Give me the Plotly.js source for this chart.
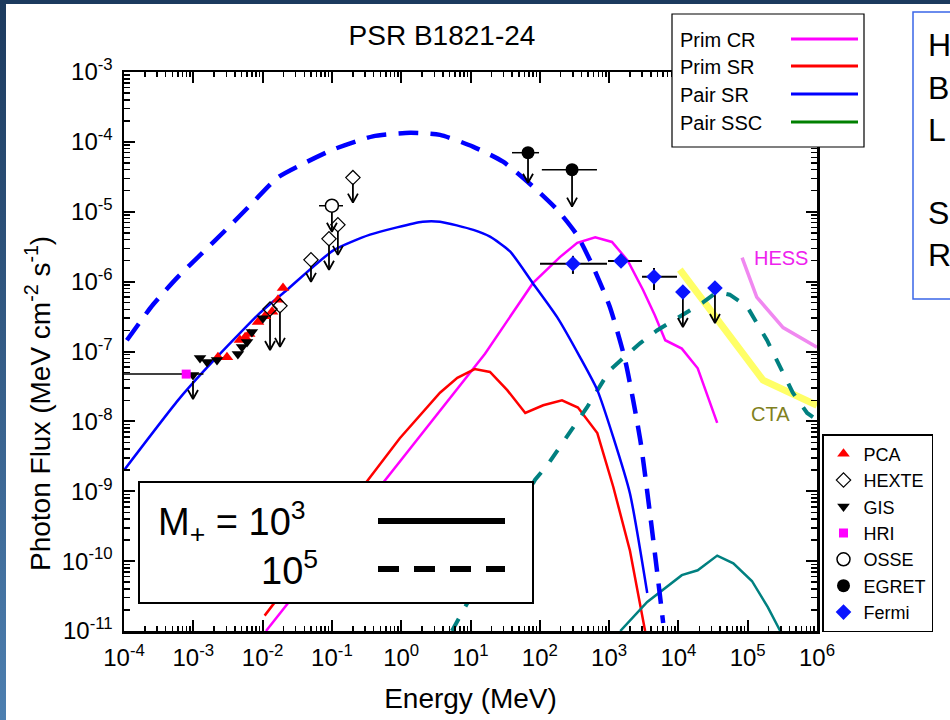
<!DOCTYPE html>
<html><head><meta charset="utf-8">
<script src="https://cdn.plot.ly/plotly-3.0.1.min.js"></script>
<style>
html,body{margin:0;padding:0;background:#fff;}
#wrap{position:relative;width:950px;height:720px;overflow:hidden;background:#fff;}
#chart{position:absolute;left:0;top:0;width:950px;height:720px;}
#lstrip{position:absolute;left:0;top:0;width:6px;height:720px;background:linear-gradient(#1c3a5e,#4d7fb0);z-index:5;}
#tstrip{position:absolute;left:0;top:0;width:950px;height:4px;background:#1c3a5e;z-index:5;}
</style></head><body>
<div id="wrap"><div id="chart"></div><div id="lstrip"></div><div id="tstrip"></div></div>
<script>
const FONT = '"Liberation Sans", Arial, Helvetica, sans-serif';

// ---- tick labels ----
const xTickVals = [1e-4,1e-3,1e-2,1e-1,1e0,1e1,1e2,1e3,1e4,1e5,1e6];
const xTickText = ['10<sup>-4</sup>','10<sup>-3</sup>','10<sup>-2</sup>','10<sup>-1</sup>','10<sup>0</sup>','10<sup>1</sup>','10<sup>2</sup>','10<sup>3</sup>','10<sup>4</sup>','10<sup>5</sup>','10<sup>6</sup>'];
const yTickVals = [1e-11,1e-10,1e-9,1e-8,1e-7,1e-6,1e-5,1e-4,1e-3];
const yTickText = ['10<sup>-11</sup>','10<sup>-10</sup>','10<sup>-9</sup>','10<sup>-8</sup>','10<sup>-7</sup>','10<sup>-6</sup>','10<sup>-5</sup>','10<sup>-4</sup>','10<sup>-3</sup>'];

// ---- model curves ----
const pairSR3_E = [1e-4, 6.0e-4, 1.38e-3, 9.1e-3, 2.24e-2, 0.105, 0.355, 2.04, 3.63, 11.0, 19.1, 37.2, 79.4, 178, 380, 676, 1150, 2000, 3550];
const pairSR3_F = [2.0e-9, 2.0e-8, 5.1e-8, 3.55e-7, 7.6e-7, 2.8e-6, 4.7e-6, 7.2e-6, 7.2e-6, 5.5e-6, 4.4e-6, 2.7e-6, 9.5e-7, 3.1e-7, 8.3e-8, 2.8e-8, 5.9e-9, 9.3e-10, 3.5e-11];

const pairSR5_E = [1.1e-4, 2.63e-4, 6.0e-4, 1.35e-3, 3.16e-3, 7.2e-3, 1.66e-2, 4.4e-2, 0.105, 0.39, 1.35, 3.63, 11.0, 29.5, 79.4, 178, 347, 589, 1020, 1700, 2820, 3890, 4900, 6030];
const pairSR5_F = [1.45e-7, 4.7e-7, 1.17e-6, 2.57e-6, 5.9e-6, 1.35e-5, 3.1e-5, 5.2e-5, 7.8e-5, 1.2e-4, 1.35e-4, 1.26e-4, 8.5e-5, 5.2e-5, 2.3e-5, 1.07e-5, 4.6e-6, 1.62e-6, 4.4e-7, 7.6e-8, 5.4e-9, 4.8e-10, 7.4e-11, 1.3e-11];

const primCR_E = [1.12e-2, 0.955, 16.2, 79.4, 195, 347, 631, 1100, 1860, 3090, 4570, 6460, 1.12e4, 1.9e4, 2.57e4, 3.63e4];
const primCR_F = [1.0e-11, 2.7e-9, 9.3e-8, 9.5e-7, 2.24e-6, 3.6e-6, 4.3e-6, 3.7e-6, 2.0e-6, 7.6e-7, 3.3e-7, 1.45e-7, 1.1e-7, 5.75e-8, 2.5e-8, 9.5e-9];

const primSR_E = [1.07e-2, 0.955, 3.63, 6.46, 11.5, 19.1, 33.9, 61.7, 112, 209, 355, 676, 1150, 2000, 3310];
const primSR_F = [1.66e-11, 5.75e-9, 2.57e-8, 4.2e-8, 5.6e-8, 5.1e-8, 2.8e-8, 1.32e-8, 1.7e-8, 2.0e-8, 1.58e-8, 6.8e-9, 1.15e-9, 1.41e-10, 1.0e-11];

const pairSSC3_E = [1450, 3550, 1.12e4, 1.9e4, 3.63e4, 6.2e4, 1.15e5, 1.95e5, 2.95e5];
const pairSSC3_F = [1.0e-11, 2.6e-11, 6.3e-11, 7.4e-11, 1.2e-10, 9.3e-11, 5.2e-11, 2.2e-11, 1.0e-11];

const pairSSC5_E = [5.4, 85, 126, 479, 1020, 2820, 4900, 2.24e4, 3.63e4, 5.5e4, 9.8e4, 1.9e5, 4.47e5, 7.2e5, 1e6];
const pairSSC5_F = [1.0e-11, 1.45e-9, 2.3e-9, 1.58e-8, 5.4e-8, 1.32e-7, 2.0e-7, 5.0e-7, 7.1e-7, 6.5e-7, 4.4e-7, 1.45e-7, 2.57e-8, 1.32e-8, 1.05e-8];

const cta_E = [1.05e4, 1.66e5, 1e6];
const cta_F = [1.48e-6, 3.9e-8, 1.7e-8];

const hess_E = [8.3e4, 1.35e5, 3.24e5, 1e6];
const hess_F = [2.2e-6, 6.0e-7, 2.2e-7, 1.15e-7];

// ---- observations ----
const pca_E = [2.27e-3, 3.06e-3, 4.7e-3, 5.6e-3, 6.4e-3, 8.6e-3, 1.08e-2, 1.37e-2, 1.67e-2, 1.97e-2];
const pca_F = [8.3e-8, 8.3e-8, 1.46e-7, 1.6e-7, 1.78e-7, 2.65e-7, 3.2e-7, 3.7e-7, 5.5e-7, 8.1e-7];

const hexte_E = [1.28e-2, 1.78e-2, 4.99e-2, 9.08e-2, 0.122, 0.201];
const hexte_F = [4.06e-7, 4.5e-7, 2.05e-6, 4.1e-6, 6.5e-6, 3.08e-5];

const gis_E = [1.25e-3, 1.58e-3, 2.2e-3, 4.4e-3, 5.05e-3, 5.96e-3, 7.0e-3, 1.01e-2];
const gis_F = [8.1e-8, 7.1e-8, 7.55e-8, 9.2e-8, 1.16e-7, 1.37e-7, 1.9e-7, 3.0e-7];
const gisUL_E = [9.9e-4];
const gisUL_F = [4.6e-8];

const hri_E = [7.9e-4];
const hri_F = [4.75e-8];
const hri_Elo = [5e-5];
const hri_Ehi = [1.4e-3];

const osse_E = [0.1];
const osse_F = [1.22e-5];
const osse_Elo = [0.0652];
const osse_Ehi = [0.1445];

const egret_E = [67.6, 292];
const egret_F = [7.0e-5, 4.0e-5];
const egret_Elo = [39.7, 107];
const egret_Ehi = [97.5, 668];

const fermi_E = [301, 1486, 4446];
const fermi_F = [1.8e-6, 1.98e-6, 1.17e-6];
const fermi_Elo = [100.7, 964, 2985];
const fermi_Ehi = [933, 2985, 9550];
const fermi_Flo = [1.29e-6, 1.98e-6, 7.6e-7];
const fermi_Fhi = [2.34e-6, 1.98e-6, 1.57e-6];
const fermiUL_E = [1.16e4, 3.37e4];
const fermiUL_F = [7.1e-7, 8.1e-7];

// arrow lengths (px) for upper limits  (style)
const hexteArrow = [41, 41, 22, 31, 30, 25];
const gisArrow = [24];
const osseArrow = [26];
const egretArrow = [30, 37];
const fermiArrow = [35, 35];

// ---- geometry helpers (plot area in px) ----
const PL = 124, PR = 817, PT = 72, PB = 631;
const DEC_X = (PR - PL) / 10, DEC_Y = (PB - PT) / 8;   // px per decade
const px = v => (v - PL) / (PR - PL);
const py = v => (PB - v) / (PB - PT);

const minorX = [];
for (let d = -4; d < 6; d++) for (let k = 2; k < 10; k++) minorX.push(k * Math.pow(10, d));
const minorY = [];
for (let d = -11; d < -3; d++) for (let k = 2; k < 10; k++) minorY.push(k * Math.pow(10, d));

const minus = (v, lo) => v.map((x, i) => x - lo[i]);
const plus = (v, hi) => v.map((x, i) => hi[i] - x);

function line(E, F, color, width, dash, shape) {
  return {x: E, y: F, type: 'scatter', mode: 'lines', showlegend: false, hoverinfo: 'skip',
    line: {color: color, width: width, dash: dash || 'solid', shape: shape || 'linear', smoothing: 0.6}};
}

// upper-limit arrows: shaft + open V head, built from each point's value
const ulX = [], ulY = [];
function ulArrows(E, F, lens) {
  const STAND = 6, HW = 5, HH = 9;
  E.forEach((e, i) => {
    const f0 = F[i] * Math.pow(10, -STAND / DEC_Y);
    const tip = F[i] * Math.pow(10, -lens[i] / DEC_Y);
    const back = tip * Math.pow(10, HH / DEC_Y);
    const eL = e * Math.pow(10, -HW / DEC_X), eR = e * Math.pow(10, HW / DEC_X);
    ulX.push(e, e, null, eL, e, eR, null);
    ulY.push(f0, tip, null, back, tip, back, null);
  });
}
ulArrows(hexte_E, hexte_F, hexteArrow);
ulArrows(gisUL_E, gisUL_F, gisArrow);
ulArrows(osse_E, osse_F, osseArrow);
ulArrows(egret_E, egret_F, egretArrow);
ulArrows(fermiUL_E, fermiUL_F, fermiArrow);

const traces = [
  line(cta_E, cta_F, '#ffff66', 7),
  line(hess_E, hess_F, '#f088f0', 3.5),
  line(primCR_E, primCR_F, '#ff00ff', 2.5),
  line(primSR_E, primSR_F, '#ff0000', 2.5),
  line(pairSSC3_E, pairSSC3_F, '#008080', 2.5),
  line(pairSSC5_E, pairSSC5_F, '#008080', 4, '14px,14px'),
  line(pairSR3_E, pairSR3_F, '#0000ff', 2.5, 'solid', 'spline'),
  line(pairSR5_E, pairSR5_F, '#0000ff', 4.5, '20px,12px', 'spline'),
  {x: ulX, y: ulY, type: 'scatter', mode: 'lines', showlegend: false, hoverinfo: 'skip', connectgaps: false,
    line: {color: 'black', width: 1.8}},
  {name: 'PCA', x: pca_E, y: pca_F, type: 'scatter', mode: 'markers',
    marker: {symbol: 'triangle-up', color: '#ff0000', size: 11}},
  {name: 'HEXTE', x: hexte_E, y: hexte_F, type: 'scatter', mode: 'markers',
    marker: {symbol: 'diamond-open', color: 'black', size: 11, line: {width: 1.2, color: 'black'}}},
  {name: 'GIS', x: gis_E.concat(gisUL_E), y: gis_F.concat(gisUL_F), type: 'scatter', mode: 'markers',
    marker: {symbol: 'triangle-down', color: 'black', size: 11}},
  {name: 'HRI', x: hri_E, y: hri_F, type: 'scatter', mode: 'markers',
    marker: {symbol: 'square', color: '#ff00ff', size: 9},
    error_x: {type: 'data', symmetric: false, array: plus(hri_E, hri_Ehi), arrayminus: minus(hri_E, hri_Elo), color: 'black', thickness: 1.5, width: 0}},
  {name: 'OSSE', x: osse_E, y: osse_F, type: 'scatter', mode: 'markers',
    marker: {symbol: 'circle', color: 'white', size: 13, line: {width: 1.5, color: 'black'}},
    error_x: {type: 'data', symmetric: false, array: plus(osse_E, osse_Ehi), arrayminus: minus(osse_E, osse_Elo), color: 'black', thickness: 1.5, width: 0}},
  {name: 'EGRET', x: egret_E, y: egret_F, type: 'scatter', mode: 'markers',
    marker: {symbol: 'circle', color: 'black', size: 13},
    error_x: {type: 'data', symmetric: false, array: plus(egret_E, egret_Ehi), arrayminus: minus(egret_E, egret_Elo), color: 'black', thickness: 1.5, width: 0}},
  {name: 'Fermi', legendgroup: 'fermi', x: fermi_E, y: fermi_F, type: 'scatter', mode: 'markers',
    marker: {symbol: 'diamond', color: '#0a14ff', size: 12},
    error_x: {type: 'data', symmetric: false, array: plus(fermi_E, fermi_Ehi), arrayminus: minus(fermi_E, fermi_Elo), color: 'black', thickness: 2, width: 0},
    error_y: {type: 'data', symmetric: false, array: plus(fermi_F, fermi_Fhi), arrayminus: minus(fermi_F, fermi_Flo), color: 'black', thickness: 2, width: 0}},
  {name: 'Fermi', legendgroup: 'fermi', showlegend: false, x: fermiUL_E, y: fermiUL_F, type: 'scatter', mode: 'markers',
    marker: {symbol: 'diamond', color: '#0a14ff', size: 12}}
];

const annotations = [];
function txt(t, xp, yp, size, color, extra) {
  return Object.assign({text: t, x: px(xp), y: py(yp), xref: 'paper', yref: 'paper', xanchor: 'left', yanchor: 'middle',
    showarrow: false, font: {family: FONT, size: size, color: color || 'black'}}, extra || {});
}
// model legend
const modelNames = ['Prim CR', 'Prim SR', 'Pair SR', 'Pair SSC'];
const modelColors = ['#ff00ff', '#ff0000', '#0000ff', '#008000'];
const rowY = [40, 67, 95, 123];
modelNames.forEach((n, i) => annotations.push(txt(n, 678, rowY[i], 20)));
// M+ box
annotations.push(txt('M<sub>+</sub> = 10<sup>3</sup>', 156, 522, 38));
annotations.push(txt('10<sup>5</sup>', 259, 568, 38));
// instrument labels
annotations.push(txt('HESS', 752, 258, 20, '#ee22ee'));
annotations.push(txt('CTA', 749, 414, 20, '#808020'));
// side panel letters
[['H', 45], ['B', 88], ['L', 130], ['S', 213], ['R', 255]].forEach(a => annotations.push(txt(a[0], 926, a[1], 32)));
// y title
annotations.push(txt('Photon Flux (MeV cm<sup>-2</sup> s<sup>-1</sup>)', 38, 404, 28, 'black', {xanchor: 'center', textangle: -90}));

const shapes = [
  {type: 'rect', xref: 'paper', yref: 'paper', x0: px(139), x1: px(533), y0: py(603), y1: py(482),
    fillcolor: 'white', line: {color: 'black', width: 2}, layer: 'above'},
  {type: 'line', xref: 'paper', yref: 'paper', x0: px(378), x1: px(505), y0: py(521), y1: py(521),
    line: {color: 'black', width: 6}, layer: 'above'},
  {type: 'line', xref: 'paper', yref: 'paper', x0: px(378), x1: px(505), y0: py(569), y1: py(569),
    line: {color: 'black', width: 6, dash: '21px,15px'}, layer: 'above'},
  {type: 'rect', xref: 'paper', yref: 'paper', x0: px(672), x1: px(864), y0: py(147), y1: py(14),
    fillcolor: 'white', line: {color: 'black', width: 1.2}, layer: 'above'},
  {type: 'rect', xref: 'paper', yref: 'paper', x0: px(913), x1: px(1000), y0: py(299), y1: py(12),
    line: {color: '#3a66e8', width: 1.5}, layer: 'above'}
];
modelColors.forEach((c, i) => shapes.push({type: 'line', xref: 'paper', yref: 'paper',
  x0: px(791), x1: px(858), y0: py(rowY[i] - 1), y1: py(rowY[i] - 1), line: {color: c, width: 3}, layer: 'above'}));

const axisCommon = {
  type: 'log', tickmode: 'array', ticks: 'inside', tickwidth: 2, tickcolor: 'black',
  showline: true, linewidth: 2.5, linecolor: 'black', mirror: 'ticks', showgrid: false, zeroline: false,
  tickfont: {family: FONT, size: 24, color: 'black'}, fixedrange: true, automargin: false
};

const layout = {
  width: 950, height: 720,
  margin: {l: PL, r: 950 - PR, t: PT, b: 720 - PB},
  paper_bgcolor: 'white', plot_bgcolor: 'white',
  title: {text: 'PSR B1821-24', x: 442 / 950, xanchor: 'center', y: 1 - 35 / 720, yanchor: 'middle',
    font: {family: FONT, size: 28, color: 'black'}},
  xaxis: Object.assign({}, axisCommon, {
    range: [-4, 6], tickvals: xTickVals, ticktext: xTickText, ticklen: 11, ticklabelstandoff: 4,
    minor: {tickmode: 'array', tickvals: minorX, ticks: 'inside', ticklen: 5, tickwidth: 1.5, tickcolor: 'black', showgrid: false},
    title: {text: 'Energy (MeV)', font: {family: FONT, size: 28, color: 'black'}, standoff: 18}
  }),
  yaxis: Object.assign({}, axisCommon, {
    range: [-11, -3], tickvals: yTickVals, ticktext: yTickText, ticklen: 11, ticklabelstandoff: 4,
    minor: {tickmode: 'array', tickvals: minorY, ticks: 'inside', ticklen: 6, tickwidth: 1.5, tickcolor: 'black', showgrid: false}
  }),
  showlegend: true,
  legend: {x: px(822), y: py(434), xanchor: 'left', yanchor: 'top', bgcolor: 'white', bordercolor: 'black', borderwidth: 1.5,
    font: {family: FONT, size: 18, color: 'black'}, traceorder: 'normal'},
  shapes: shapes,
  annotations: annotations
};

Plotly.newPlot('chart', traces, layout, {staticPlot: true, displayModeBar: false});
</script></body></html>
